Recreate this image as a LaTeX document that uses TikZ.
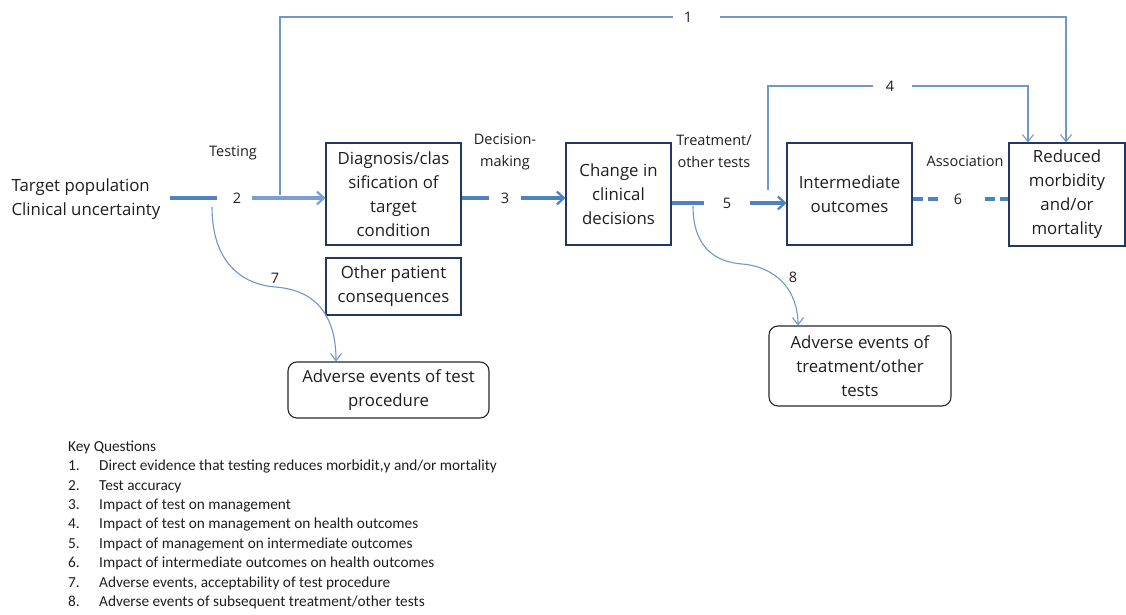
\documentclass[tikz,border=0pt]{standalone}
\usepackage{fontspec}
\setmainfont{Open Sans}
\newfontfamily\keyfont{Carlito}
\usetikzlibrary{arrows.meta,positioning}
\definecolor{linkblue}{RGB}{79,129,189}
\definecolor{thinblue}{RGB}{112,150,204}
\definecolor{boxnavy}{RGB}{31,56,100}
\definecolor{txtgray}{RGB}{30,30,30}

\begin{document}
\begin{tikzpicture}[x=1pt,y=-1pt,
every node/.style={font=\fontsize{14.5}{22}\selectfont,text=txtgray,inner sep=2pt},
bigtext/.style={font=\fontsize{16.8}{24}\selectfont},
box/.style={bigtext,draw=boxnavy,line width=1.1pt,align=center},
roundbox/.style={bigtext,draw=black!85,line width=1.1pt,rounded corners=9pt,align=center},
thickline/.style={draw=linkblue,line width=3.6pt},
thickarrow/.style={thickline,-{Straight Barb[length=7pt,width=13pt,line width=2.2pt]}},
thinline/.style={draw=thinblue,line width=1.1pt},
thinarrow/.style={thinline,-{Straight Barb[length=7pt,width=11pt]}},
dashline/.style={thickline,dash pattern=on 10pt off 5pt}]
\useasboundingbox (0,0) rectangle (1126,615);

% boxes
\node[box,minimum width=135pt,minimum height=102pt] (diag) at (393.5,194) {Diagnosis/clas\\sification of\\target\\condition};
\node[box,minimum width=135pt,minimum height=57pt] (other) at (393.5,286.5) {Other patient\\consequences};
\node[box,minimum width=105pt,minimum height=102pt] (change) at (618.5,194) {Change in\\clinical\\decisions};
\node[box,minimum width=125pt,minimum height=102pt] (inter) at (849.5,194) {Intermediate\\outcomes};
\node[box,minimum width=116pt,minimum height=103pt] (reduced) at (1067,194.5) {Reduced\\morbidity\\and/or\\mortality};
\node[roundbox,minimum width=201pt,minimum height=56pt] (advtest) at (388.5,390) {Adverse events of test\\procedure};
\node[roundbox,minimum width=182pt,minimum height=80pt] (advtreat) at (860,366) {Adverse events of\\treatment/other\\tests};

% plain labels
\node[bigtext,align=left] (target) at (86,199) {Target population\\Clinical uncertainty};
\node (testing) at (233,153) {Testing};
\node[align=center] (decision) at (505,152) {Decision-\\making};
\node[align=center] (treat) at (714,151) {Treatment/\\other tests};
\node (assoc) at (965,161) {Association};
\node (n1) at (688,17) {1};
\node (n2) at (237,198) {2};
\node (n3) at (505,198) {3};
\node (n4) at (890,86) {4};
\node (n5) at (727,203) {5};
\node (n6) at (958,199) {6};
\node (n7) at (275,278) {7};
\node (n8) at (793,277) {8};

% main chain
\draw[thickline] (170,198) -- ([xshift=-14pt]n2.west);
\draw[thickarrow,draw=linkblue!75] ([xshift=9pt]n2.east) -- (diag.west|-n2);
\draw[thickline] (diag.east|-n3) -- ([xshift=-10pt]n3.west);
\draw[thickarrow] ([xshift=10pt]n3.east) -- (change.west|-n3);
\draw[thickline] (change.east|-n5) -- ([xshift=-17pt]n5.west);
\draw[thickarrow] ([xshift=17pt]n5.east) -- (inter.west|-n5);
\draw[dashline] (inter.east|-n6) -- ([xshift=-12pt]n6.west);
\draw[dashline] ([xshift=21pt]n6.east) -- (reduced.west|-n6);

% direct paths
\coordinate (s1) at (280,195);
\coordinate (s4) at (768,190);
\draw[thinline] (s1) |- ([xshift=-9pt]n1.west);
\draw[thinarrow] ([xshift=26pt]n1.east) -| ([xshift=-1pt]reduced.north);
\draw[thinline] (s4) |- ([xshift=-11pt]n4.west);
\draw[thinarrow] ([xshift=16pt]n4.east) -| ([xshift=-39pt]reduced.north);

% harms
\coordinate (s7) at (212,207);
\coordinate (s8) at (693,206);
\draw[thinarrow] (s7) .. controls (212,268) and (248,285) .. (275,287)
  .. controls (318,290) and (336,318) .. ([xshift=-52.5pt]advtest.north);
\draw[thinarrow] (s8) .. controls (693,248) and (716,262) .. (742,264)
  .. controls (778,267) and (798,292) .. ([xshift=-62pt]advtreat.north);

% key questions
\node[anchor=north west,align=left,inner sep=0pt,
  font=\keyfont\fontsize{15.3}{19.4}\selectfont] (keyq) at (68,440.5) {Key Questions\\
\makebox[31pt][l]{1.}Direct evidence that testing reduces morbidit,y and/or mortality\\
\makebox[31pt][l]{2.}Test accuracy\\
\makebox[31pt][l]{3.}Impact of test on management\\
\makebox[31pt][l]{4.}Impact of test on management on health outcomes\\
\makebox[31pt][l]{5.}Impact of management on intermediate outcomes\\
\makebox[31pt][l]{6.}Impact of intermediate outcomes on health outcomes\\
\makebox[31pt][l]{7.}Adverse events, acceptability of test procedure\\
\makebox[31pt][l]{8.}Adverse events of subsequent treatment/other tests};
\end{tikzpicture}
\end{document}
